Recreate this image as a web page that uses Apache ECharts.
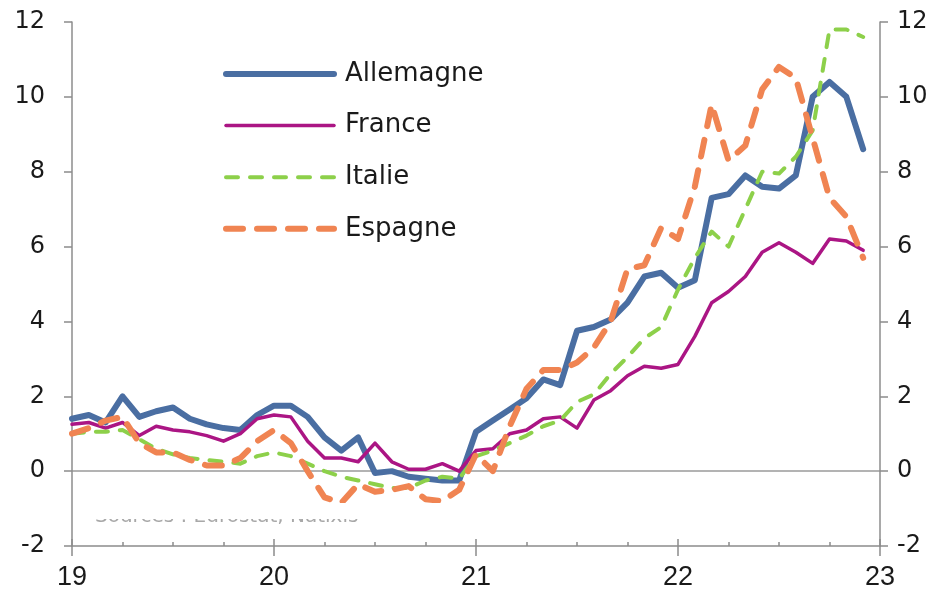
<!DOCTYPE html>
<html>
<head>
<meta charset="utf-8">
<script src="https://cdn.jsdelivr.net/npm/echarts@6/dist/echarts.min.js"></script>
<style>
html,body{margin:0;padding:0;background:#fff;}
#chart{width:945px;height:592px;}
</style>
</head>
<body>
<div id="chart"></div>
<script>
// Monthly, Jan 2019 .. Dec 2022 (x = 19 + month/12)
var startYear = 19;
var seriesNames = ['Allemagne', 'France', 'Italie', 'Espagne'];
var allemagne = [
  1.4, 1.5, 1.3, 2.0, 1.45, 1.6, 1.7, 1.4, 1.25, 1.15, 1.1, 1.5,
  1.75, 1.75, 1.45, 0.9, 0.55, 0.9, -0.05, 0.0, -0.15, -0.2, -0.25, -0.25,
  1.05, 1.35, 1.65, 1.95, 2.45, 2.3, 3.75, 3.85, 4.05, 4.5, 5.2, 5.3,
  4.9, 5.1, 7.3, 7.4, 7.9, 7.6, 7.55, 7.9, 10.0, 10.4, 10.0, 8.6
];
var france = [
  1.25, 1.3, 1.15, 1.3, 0.95, 1.2, 1.1, 1.05, 0.95, 0.8, 1.0, 1.4,
  1.5, 1.45, 0.8, 0.35, 0.35, 0.25, 0.75, 0.25, 0.05, 0.05, 0.2, 0.0,
  0.55, 0.6, 1.0, 1.1, 1.4, 1.45, 1.15, 1.9, 2.15, 2.55, 2.8, 2.75,
  2.85, 3.6, 4.5, 4.8, 5.2, 5.85, 6.1, 5.85, 5.55, 6.2, 6.15, 5.9
];
var italie = [
  1.0, 1.05, 1.05, 1.1, 0.85, 0.6, 0.45, 0.35, 0.3, 0.25, 0.2, 0.4,
  0.5, 0.4, 0.2, 0.0, -0.15, -0.25, -0.35, -0.45, -0.45, -0.25, -0.15, -0.2,
  0.4, 0.55, 0.75, 0.95, 1.2, 1.35, 1.85, 2.05, 2.6, 3.05, 3.55, 3.85,
  4.85, 5.7, 6.4, 6.0, 7.0, 8.0, 7.95, 8.4, 9.1, 11.8, 11.8, 11.6
];
var espagne = [
  1.0, 1.15, 1.35, 1.45, 0.75, 0.5, 0.5, 0.3, 0.15, 0.15, 0.35, 0.8,
  1.1, 0.75, 0.0, -0.7, -0.85, -0.35, -0.55, -0.5, -0.4, -0.75, -0.8, -0.5,
  0.45, 0.0, 1.2, 2.2, 2.7, 2.7, 2.9, 3.3, 4.0, 5.4, 5.5, 6.5,
  6.2, 7.6, 9.8, 8.3, 8.7, 10.2, 10.8, 10.5, 8.9, 7.3, 6.8, 5.7
];
var xTickLabels = ['19', '20', '21', '22', '23'];
var yTickLabels = ['-2', '0', '2', '4', '6', '8', '10', '12'];
var sourceText = 'Sources : Eurostat, Natixis';

function pairs(arr) {
  return arr.map(function (v, i) { return [startYear + i / 12, v]; });
}

var chart = echarts.init(document.getElementById('chart'), null, {renderer: 'canvas'});
var axisGray = '#8c8c8c';
var labelColor = '#1a1a1a';
var yFont = 'DejaVu Sans, Liberation Sans, sans-serif';

var yAxisCommon = {
  type: 'value', min: -2, max: 12, interval: 2,
  axisLine: {show: true, lineStyle: {color: axisGray, width: 1.5}},
  axisTick: {show: true, length: 8, lineStyle: {color: axisGray, width: 1.5}},
  axisLabel: {
    color: labelColor, fontSize: 24, fontFamily: yFont,
    formatter: function (v) { return yTickLabels[Math.round((v + 2) / 2)]; }
  }
};

var option = {
  backgroundColor: '#ffffff',
  animation: false,
  grid: {left: 72, right: 65, top: 22, bottom: 46, containLabel: false},
  legend: {
    orient: 'vertical', left: 218, top: 56,
    itemWidth: 108, itemHeight: 14, itemGap: 25.6,
    data: seriesNames,
    itemStyle: {opacity: 0},
    lineStyle: {width: 'inherit', type: 'inherit', cap: 'round'},
    textStyle: {fontSize: 26, fontFamily: yFont, color: labelColor, padding: [0, 0, 0, 6]}
  },
  xAxis: [{
    type: 'value', min: 19, max: 23, interval: 1,
    axisLine: {show: true, onZero: false, lineStyle: {color: axisGray, width: 1.5}},
    axisTick: {show: true, length: 10, lineStyle: {color: axisGray, width: 1.5}},
    minorTick: {show: false},
    splitLine: {show: false},
    axisLabel: {
      color: labelColor, fontSize: 27, margin: 18,
      fontFamily: 'Liberation Sans, Arial, sans-serif',
      formatter: function (v) { return xTickLabels[Math.round(v - 19)]; }
    }
  }, {
    type: 'value', min: 19, max: 23, interval: 1, position: 'bottom',
    axisLine: {show: false, onZero: false},
    axisTick: {show: true, inside: true, length: 7, lineStyle: {color: axisGray, width: 1.5}},
    minorTick: {show: true, splitNumber: 4, length: 4, lineStyle: {color: axisGray, width: 1.5}},
    splitLine: {show: false},
    axisLabel: {show: false}
  }],
  yAxis: [
    Object.assign({}, yAxisCommon, {
      position: 'left',
      axisLabel: Object.assign({}, yAxisCommon.axisLabel, {margin: 27}),
      splitLine: {show: true, lineStyle: {
        color: ['rgba(0,0,0,0)', '#9a9a9a', 'rgba(0,0,0,0)', 'rgba(0,0,0,0)', 'rgba(0,0,0,0)', 'rgba(0,0,0,0)', 'rgba(0,0,0,0)', 'rgba(0,0,0,0)'],
        width: 1.5}}
    }),
    Object.assign({}, yAxisCommon, {
      position: 'right',
      axisLabel: Object.assign({}, yAxisCommon.axisLabel, {margin: 17}),
      splitLine: {show: false}
    })
  ],
  graphic: [
    {type: 'text', left: 95, top: 507, z: 1, silent: true,
     style: {text: sourceText, fill: '#a8a8a8', font: '20px DejaVu Sans, sans-serif'}},
    {type: 'rect', shape: {x: 88, y: 503, width: 385, height: 16}, z: 100, silent: true,
     style: {fill: '#ffffff'}}
  ],
  series: [
    {name: 'Allemagne', type: 'line', data: pairs(allemagne), showSymbol: false, symbol: 'none',
     lineStyle: {color: '#4a6ea2', width: 6, cap: 'round', join: 'round'}, itemStyle: {color: '#4a6ea2'}, z: 2},
    {name: 'France', type: 'line', data: pairs(france), showSymbol: false, symbol: 'none',
     lineStyle: {color: '#ab1584', width: 3.5, cap: 'round', join: 'round'}, itemStyle: {color: '#ab1584'}, z: 3},
    {name: 'Italie', type: 'line', data: pairs(italie), showSymbol: false, symbol: 'none',
     lineStyle: {color: '#8dd04a', width: 4, type: [12, 12], cap: 'round', join: 'round'}, itemStyle: {color: '#8dd04a'}, z: 4},
    {name: 'Espagne', type: 'line', data: pairs(espagne), showSymbol: false, symbol: 'none',
     lineStyle: {color: '#f08452', width: 6, type: [17, 14], cap: 'round', join: 'round'}, itemStyle: {color: '#f08452'}, z: 5}
  ]
};
chart.setOption(option);
</script>
</body>
</html>
